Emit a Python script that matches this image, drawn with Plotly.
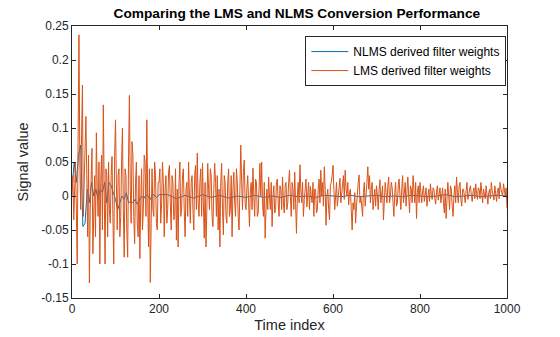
import plotly.graph_objects as go

# LMS derived filter weights, read every 2 samples (x = 0, 2, ..., 1000)
lms_y = [
    # 0-98
    0.0, 0.03, -0.035, 0.01, 0.05, -0.02, -0.10, 0.08, 0.237, 0.05,
    -0.02, 0.09, 0.163, -0.03, 0.02, 0.07, 0.117, 0.03, -0.06, 0.06,
    -0.128, -0.02, 0.04, 0.07, -0.085, -0.04, 0.03, -0.06, 0.093, 0.01,
    -0.03, 0.05, -0.10, 0.02, 0.06, -0.05, 0.134, 0.01, -0.10, 0.04,
    0.03, -0.06, 0.05, -0.02, -0.04, 0.03, 0.058, -0.03, -0.10, 0.06,
    # 100-198
    0.112, 0.02, -0.05, 0.03, 0.04, -0.06, -0.03, 0.05, 0.10, -0.02,
    -0.09, 0.04, 0.03, -0.05, -0.09, 0.06, 0.148, 0.01, -0.04, 0.08,
    0.06, -0.03, -0.07, 0.02, 0.05, -0.04, -0.06, 0.03, -0.092, -0.01,
    0.04, -0.05, -0.02, 0.06, 0.05, -0.03, 0.112, 0.0, -0.075, 0.04,
    -0.127, -0.04, 0.04, -0.02, -0.03, 0.05, 0.03, -0.04, -0.05, 0.02,
    # 200-298
    0.02, 0.04, -0.04, -0.01, 0.05, 0.02, -0.06, 0.01, 0.03, -0.04,
    -0.02, 0.035, 0.045, -0.01, -0.05, 0.03, 0.02, -0.035, -0.03, 0.04,
    -0.065, 0.01, -0.075, 0.02, 0.05, -0.03, -0.02, 0.03, 0.04, -0.02,
    -0.06, 0.01, 0.02, -0.03, 0.05, 0.0, -0.04, 0.02, 0.03, -0.02,
    -0.05, 0.03, 0.045, -0.02, 0.063, -0.01, -0.03, 0.02, 0.04, -0.03,
    # 300-398
    0.048, -0.01, -0.062, 0.02, -0.075, -0.02, 0.048, 0.01, -0.02, 0.04,
    0.03, -0.03, -0.045, 0.01, 0.048, 0.02, -0.03, 0.03, -0.05, 0.01,
    -0.075, 0.02, 0.048, -0.02, -0.057, 0.03, 0.02, -0.03, -0.04, 0.02,
    0.04, -0.03, -0.02, 0.03, -0.06, 0.01, 0.035, -0.01, -0.03, 0.04,
    0.02, -0.03, -0.05, 0.01, 0.075, 0.02, -0.02, 0.035, 0.053, -0.01,
    # 400-498
    -0.02, 0.01, 0.03, -0.01, -0.045, 0.01, 0.02, -0.02, 0.041, 0.0,
    -0.03, 0.025, 0.02, -0.03, -0.025, 0.01, 0.048, 0.0, 0.05, -0.01,
    -0.03, 0.02, -0.062, -0.02, 0.01, -0.02, 0.028, 0.0, -0.02, 0.02,
    -0.045, 0.0, 0.015, -0.025, -0.02, 0.02, 0.025, -0.01, -0.03, 0.015,
    0.01, -0.02, 0.028, -0.01, -0.025, 0.015, 0.02, -0.02, -0.01, 0.02,
    # 500-598
    0.038, 0.0, -0.03, 0.02, 0.01, -0.02, 0.035, -0.01, -0.055, 0.0,
    0.02, -0.01, 0.046, 0.01, -0.01, 0.02, -0.03, -0.005, 0.01, 0.025,
    -0.016, 0.0, 0.02, -0.02, 0.014, 0.0, -0.01, 0.02, -0.03, 0.01,
    0.01, -0.025, -0.02, 0.01, 0.025, -0.01, 0.038, 0.0, 0.02, -0.015,
    0.043, 0.01, -0.043, 0.0, 0.01, -0.02, -0.035, 0.015, 0.02, 0.03,
    # 600-698
    0.045, 0.01, -0.02, 0.0, 0.02, -0.015, 0.0, 0.015, 0.026, -0.01,
    0.006, 0.02, 0.03, -0.005, 0.038, 0.01, 0.0, 0.02, -0.013, 0.005,
    0.01, -0.02, -0.05, -0.01, -0.02, 0.005, -0.04, -0.015, 0.01, 0.02,
    0.031, -0.01, 0.0, -0.02, -0.03, 0.005, 0.02, -0.015, 0.0, 0.02,
    0.043, 0.01, 0.03, -0.01, 0.01, 0.02, -0.02, 0.005, 0.01, -0.015,
    # 700-798
    0.015, 0.0, -0.02, 0.01, 0.024, -0.01, 0.01, 0.015, -0.035, -0.01,
    0.02, 0.005, -0.01, 0.015, 0.028, -0.01, 0.0, 0.02, 0.012, -0.01,
    -0.03, 0.005, 0.02, -0.015, -0.01, 0.015, 0.025, 0.0, -0.02, 0.01,
    0.03, -0.01, 0.005, 0.02, -0.015, 0.01, 0.028, 0.0, -0.025, 0.015,
    0.01, -0.01, 0.03, 0.01, -0.01, 0.02, -0.033, 0.005, 0.015, -0.01,
    # 800-898
    0.02, 0.005, -0.01, 0.008, 0.015, -0.008, 0.0, 0.012, -0.015, 0.004,
    0.01, -0.008, 0.018, 0.002, -0.005, 0.012, 0.01, -0.004, -0.012, 0.006,
    0.015, -0.006, 0.005, 0.012, -0.01, 0.004, 0.012, -0.01, -0.025, 0.01,
    -0.033, -0.005, 0.02, 0.0, -0.02, 0.015, 0.01, -0.015, -0.03, 0.0,
    0.015, -0.01, 0.028, 0.005, -0.01, 0.015, 0.02, -0.005, -0.015, 0.01,
    # 900-1000
    0.01, 0.0, -0.01, 0.008, 0.02, -0.005, 0.0, 0.01, 0.015, 0.002,
    -0.008, 0.006, 0.012, -0.004, 0.018, 0.004, -0.005, 0.012, 0.01, -0.004,
    0.02, 0.006, -0.01, 0.01, 0.005, -0.004, 0.015, 0.0, -0.012, 0.005,
    0.01, -0.004, 0.02, 0.008, 0.0, -0.006, 0.015, 0.004, -0.008, 0.008,
    0.012, -0.004, 0.02, 0.01, 0.005, 0.0, 0.018, 0.01, 0.0, 0.012,
    -0.018,
]
lms_x = list(range(0, 2 * len(lms_y), 2))

# NLMS derived filter weights
nlms_x = list(range(0, 200, 5)) + list(range(200, 1001, 20))
nlms_y = [
    # 0-195 (step 5)
    0.01, 0.05, 0.02, 0.06, 0.075, -0.045, -0.04, 0.01, -0.01, 0.02,
    0.0, 0.01, -0.005, 0.01, 0.005, 0.02, -0.01, 0.02, 0.015, 0.005,
    -0.005, -0.02, -0.01, 0.0, -0.005, 0.005, -0.01, -0.008, -0.01, -0.005,
    -0.012, -0.006, 0.0, -0.004, 0.002, 0.0, -0.005, 0.003, 0.001, -0.002,
    # 200-1000 (step 20)
    0.002, 0.002, -0.004, 0.001, -0.003, 0.002, -0.002, 0.001, -0.003, 0.0,
    -0.002, 0.001, -0.002, 0.0, -0.002, 0.001, -0.001, 0.0, -0.002, 0.001,
    0.0, -0.001, 0.001, -0.001, 0.0, 0.001, -0.001, 0.0, -0.001, 0.001,
    0.0, -0.001, 0.0, 0.002, -0.001, 0.0, 0.001, -0.001, 0.0, 0.001, 0.0,
]

x_ticks = [0, 200, 400, 600, 800, 1000]
x_tick_labels = ["0", "200", "400", "600", "800", "1000"]
y_ticks = [-0.15, -0.1, -0.05, 0, 0.05, 0.1, 0.15, 0.2, 0.25]
y_tick_labels = ["-0.15", "-0.1", "-0.05", "0", "0.05", "0.1", "0.15", "0.2", "0.25"]

BLUE = "#0072BD"
ORANGE = "#D95319"
AX = "#262626"
FONT = "Arial, Liberation Sans, Helvetica, sans-serif"

fig = go.Figure()
fig.add_trace(go.Scatter(x=nlms_x, y=nlms_y, mode="lines", name="NLMS derived filter weights",
                         line=dict(color=BLUE, width=1)))
fig.add_trace(go.Scatter(x=lms_x, y=lms_y, mode="lines", name="LMS derived filter weights",
                         line=dict(color=ORANGE, width=1)))

axis_common = dict(showgrid=False, zeroline=False, showline=True, linecolor=AX, linewidth=1,
                   mirror="ticks", ticks="inside", ticklen=4, tickcolor=AX, tickwidth=1,
                   automargin=False,
                   tickfont=dict(family=FONT, size=12, color=AX))

fig.update_layout(
    width=560, height=337,
    margin=dict(l=72, r=53, t=26, b=39),
    paper_bgcolor="white", plot_bgcolor="white",
    font=dict(family=FONT, color=AX),
    title=dict(text="<b>Comparing the LMS and NLMS Conversion Performance</b>",
               x=(72 + 507) / 2 / 560, xref="paper", xanchor="center",
               y=1 - 13 / 337, yanchor="middle", automargin=False,
               font=dict(family=FONT, size=13.7, color="#000000")),
    xaxis=dict(range=[0, 1000], tickvals=x_ticks, ticktext=x_tick_labels,
               title=dict(text="Time index", font=dict(family=FONT, size=14.5, color=AX), standoff=4),
               **axis_common),
    yaxis=dict(range=[-0.15, 0.25], tickvals=y_ticks, ticktext=y_tick_labels,
               title=dict(text="Signal value", font=dict(family=FONT, size=14.5, color=AX), standoff=9),
               **axis_common),
    legend=dict(x=0.9985, y=0.963, xanchor="right", yanchor="top",
                bordercolor=AX, borderwidth=1, bgcolor="white",
                font=dict(family=FONT, size=12, color="#000000"),
                tracegroupgap=0, itemwidth=37),
    showlegend=True,
)

fig.write_html("out.html")
